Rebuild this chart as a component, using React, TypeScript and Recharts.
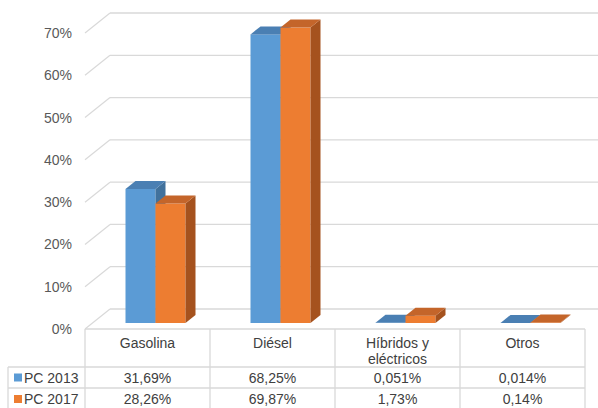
import React from 'react';
import { BarChart, Bar, XAxis, YAxis, CartesianGrid, Customized } from 'recharts';

const categories = ['Gasolina', 'Diésel', 'Híbridos y\neléctricos', 'Otros'];
const pc2013 = [31.69, 68.25, 0.051, 0.014];
const pc2017 = [28.26, 69.87, 1.73, 0.14];
const seriesNames = ['PC 2013', 'PC 2017'];
const yTicks = [0, 10, 20, 30, 40, 50, 60, 70];

const W = 598;
const H = 408;
const LEFT = 85;
const RIGHT = 585;
const TOP = 33;
const FLOOR = 329; // front edge of the floor / top of the table
const ROW1 = 367;
const ROW2 = 388;
const WALL_DX = 25;
const WALL_DY = -20;
const BAR_DX = 7.5;
const BAR_DY = -6;
const DEPTH_X = 10;
const DEPTH_Y = -8;
const GRID = '#d9d9d9';
const TEXT = '#404040';
const FONT = 'Liberation Sans, Arial, sans-serif';

const COLORS = [
  { front: '#5b9bd5', top: '#4a7fb3', side: '#41719c' },
  { front: '#ed7d31', top: '#c4652a', side: '#a5521e' },
];

const data = categories.map((c, i) => ({ cat: c, a: pc2013[i], b: pc2017[i] }));

const fmt = (v: number) => String(v).replace('.', ',') + '%';

const make3d = (col: { front: string; top: string; side: string }) => (props: any) => {
  const { x, y, width, height } = props;
  const X = x + BAR_DX;
  const Y = y + BAR_DY;
  const w = width;
  const h = Math.max(height, 0);
  return (
    <g>
      <rect x={X} y={Y} width={w} height={h} fill={col.front} />
      <polygon
        points={`${X + w},${Y} ${X + w + DEPTH_X},${Y + DEPTH_Y} ${X + w + DEPTH_X},${Y + h + DEPTH_Y} ${X + w},${Y + h}`}
        fill={col.side}
      />
      <polygon
        points={`${X},${Y} ${X + DEPTH_X},${Y + DEPTH_Y} ${X + w + DEPTH_X},${Y + DEPTH_Y} ${X + w},${Y}`}
        fill={col.top}
      />
    </g>
  );
};

const gridLine = (props: any) => {
  const { x1, y1, x2 } = props;
  return (
    <g key={`g-${props.index}`}>
      <line x1={x1} y1={y1} x2={x1 + WALL_DX} y2={y1 + WALL_DY} stroke={GRID} strokeWidth={1.3} />
      <line x1={x1 + WALL_DX} y1={y1 + WALL_DY} x2={x2 + WALL_DX} y2={y1 + WALL_DY} stroke={GRID} strokeWidth={1.3} />
    </g>
  );
};

const YTick = (props: any) => {
  const { y, payload } = props;
  return (
    <text x={LEFT - 13} y={y} textAnchor="end" dominantBaseline="central" fill="#595959" fontSize={14} fontFamily={FONT}>
      {payload.value}%
    </text>
  );
};

const XTick = (props: any) => {
  const { x, index } = props;
  const half = (RIGHT - LEFT) / categories.length / 2;
  const lines = categories[index].split('\n');
  return (
    <g>
      <line x1={x - half} y1={FLOOR} x2={x - half} y2={H} stroke={GRID} strokeWidth={1.3} />
      {index === categories.length - 1 && (
        <line x1={x + half} y1={FLOOR} x2={x + half} y2={H} stroke={GRID} strokeWidth={1.3} />
      )}
      {lines.map((l, k) => (
        <text
          key={k}
          x={x}
          y={343 + k * 16}
          textAnchor="middle"
          dominantBaseline="central"
          fill={TEXT}
          fontSize={14}
          fontFamily={FONT}
        >
          {l}
        </text>
      ))}
      <text x={x} y={(ROW1 + ROW2) / 2} textAnchor="middle" dominantBaseline="central" fill={TEXT} fontSize={14} fontFamily={FONT}>
        {fmt(pc2013[index])}
      </text>
      <text x={x} y={ROW2 + 11} textAnchor="middle" dominantBaseline="central" fill={TEXT} fontSize={14} fontFamily={FONT}>
        {fmt(pc2017[index])}
      </text>
    </g>
  );
};

const TableFrame = () => (
  <g>
    <line x1={LEFT} y1={FLOOR} x2={RIGHT} y2={FLOOR} stroke={GRID} strokeWidth={1.3} />
    <line x1={8} y1={ROW1} x2={RIGHT} y2={ROW1} stroke={GRID} strokeWidth={1.3} />
    <line x1={8} y1={ROW2} x2={RIGHT} y2={ROW2} stroke={GRID} strokeWidth={1.3} />
    <line x1={8} y1={ROW1} x2={8} y2={H} stroke={GRID} strokeWidth={1.3} />
    {seriesNames.map((n, i) => {
      const cy = i === 0 ? (ROW1 + ROW2) / 2 : ROW2 + 11;
      return (
        <g key={n}>
          <rect x={14} y={cy - 4} width={8} height={8} fill={COLORS[i].front} />
          <text x={24} y={cy} dominantBaseline="central" fill={TEXT} fontSize={14} fontFamily={FONT}>
            {n}
          </text>
        </g>
      );
    })}
  </g>
);

export default function App() {
  return (
    <div style={{ position: 'absolute', left: 0, top: 0, width: W, height: H, background: '#fff' }}>
      <BarChart
        width={W}
        height={H}
        data={data}
        margin={{ top: TOP, right: W - RIGHT, bottom: 0, left: 0 }}
        barGap={0}
        barSize={30}
      >
        <CartesianGrid vertical={false} horizontal={gridLine} />
        <YAxis
          width={LEFT}
          domain={[0, 70]}
          ticks={yTicks}
          axisLine={false}
          tickLine={false}
          tick={<YTick />}
          interval={0}
        />
        <XAxis
          dataKey="cat"
          height={H - FLOOR}
          axisLine={false}
          tickLine={false}
          interval={0}
          tick={<XTick />}
        />
        <Customized component={<TableFrame />} />
        <Bar dataKey="a" name={seriesNames[0]} shape={make3d(COLORS[0])} isAnimationActive={false} />
        <Bar dataKey="b" name={seriesNames[1]} shape={make3d(COLORS[1])} isAnimationActive={false} />
      </BarChart>
    </div>
  );
}
